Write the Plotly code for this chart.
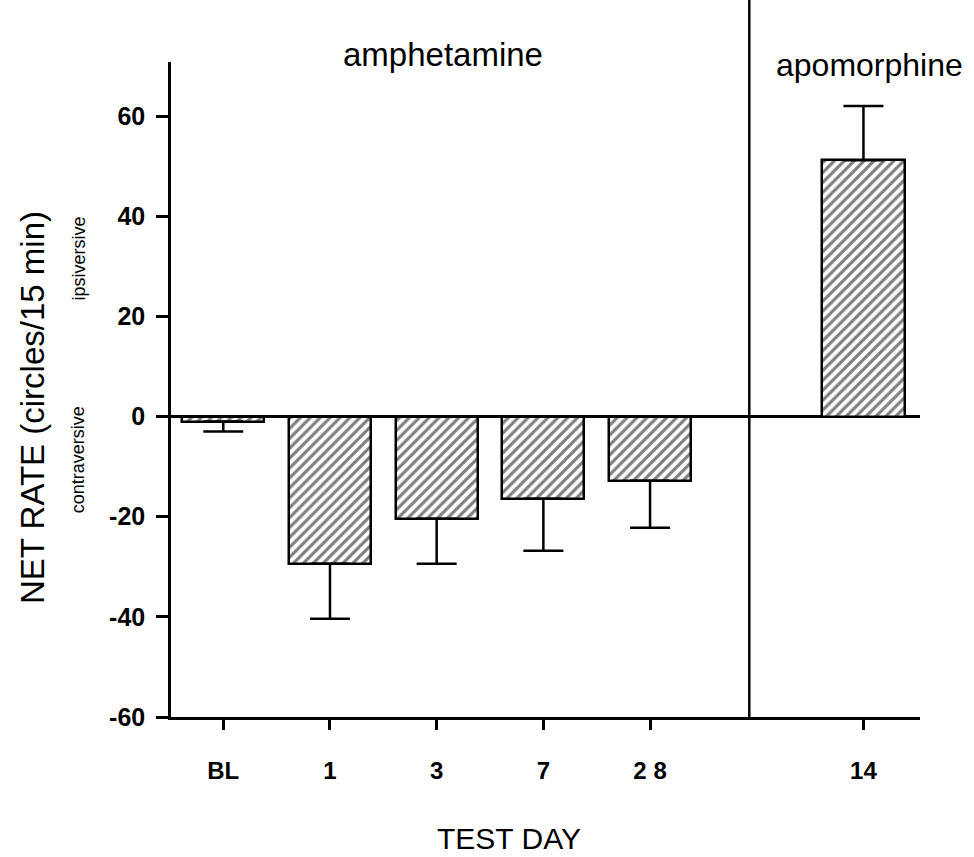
import plotly.graph_objects as go

# test days (x categories) and net rotation rate, one-sided SEM
test_days = ["BL", "1", "3", "7", "2 8", "14"]
net_rate = [-1.0, -29.4, -20.4, -16.4, -12.8, 51.2]
sem = [2.0, 11.0, 9.0, 10.4, 9.4, 10.8]
y_ticks = [-60, -40, -20, 0, 20, 40, 60]
y_ticktext = ["-60", "-40", "-20", "0", "20", "40", "60"]

FONT = "Liberation Sans, Arial, Helvetica, sans-serif"

err_up = [e if v > 0 else 0 for v, e in zip(net_rate, sem)]
err_down = [e if v < 0 else 0 for v, e in zip(net_rate, sem)]

fig = go.Figure()

fig.add_trace(go.Bar(
    x=test_days, y=net_rate, width=0.77,
    marker=dict(color="white",
                line=dict(color="black", width=2.5),
                pattern=dict(shape="/", fgcolor="black", bgcolor="white",
                             size=7, solidity=0.45)),
    error_y=dict(type="data", symmetric=False, array=err_up, arrayminus=err_down,
                 color="black", thickness=2.5, width=20),
    showlegend=False))

# spacer category keeps the gap before the apomorphine bar
cat_order = test_days[:5] + [" "] + test_days[5:]

fig.update_layout(
    width=974, height=857,
    margin=dict(l=171, r=54, t=62, b=140),
    plot_bgcolor="white", paper_bgcolor="white",
    font=dict(family=FONT, color="black"),
    bargap=0,
)

fig.update_xaxes(type="category", categoryorder="array", categoryarray=cat_order,
                 tickmode="array", tickvals=test_days, ticktext=test_days,
                 range=[-0.49, 6.53],
                 showline=True, linecolor="black", linewidth=2.5,
                 ticks="outside", ticklen=10, tickwidth=2.5, tickcolor="black",
                 ticklabelstandoff=20,
                 tickfont=dict(size=24, family=FONT, weight="bold"),
                 showgrid=False, zeroline=False)

fig.update_yaxes(range=[-60, 70.8], tickmode="array", tickvals=y_ticks,
                 ticktext=y_ticktext,
                 showline=True, linecolor="black", linewidth=2.5,
                 ticks="outside", ticklen=12, tickwidth=2.5, tickcolor="black",
                 ticklabelstandoff=6,
                 tickfont=dict(size=25, family=FONT, weight="bold"),
                 showgrid=False,
                 zeroline=True, zerolinecolor="black", zerolinewidth=2.5)

# divider between the two drug conditions
fig.add_shape(type="line", xref="x", yref="paper",
              x0=4.93, x1=4.93, y0=0, y1=1.1,
              line=dict(color="black", width=2.5))

# labels
def label(text, x, y, size, xref="paper", angle=0, family=FONT):
    fig.add_annotation(text=text, xref=xref, yref="paper", x=x, y=y,
                       xanchor="center", yanchor="middle", textangle=angle,
                       showarrow=False, font=dict(size=size, family=family))

label("amphetamine", 2.06, 1.011, 33, xref="x")
label("apomorphine", 6.06, 0.995, 32, xref="x")
label("NET RATE (circles/15 min)", -0.184, 0.472, 33, angle=-90)
label("ipsiversive", -0.124, 0.700, 18, angle=-90)
label("contraversive", -0.124, 0.392, 18, angle=-90)
label("TEST DAY", 0.451, -0.185, 30,
      family="Liberation Sans Narrow, Arial Narrow, " + FONT)

fig.write_html("out.html", config={"displayModeBar": False},
               post_script="document.body.style.margin='0';"
                           "document.body.style.overflow='hidden';")
